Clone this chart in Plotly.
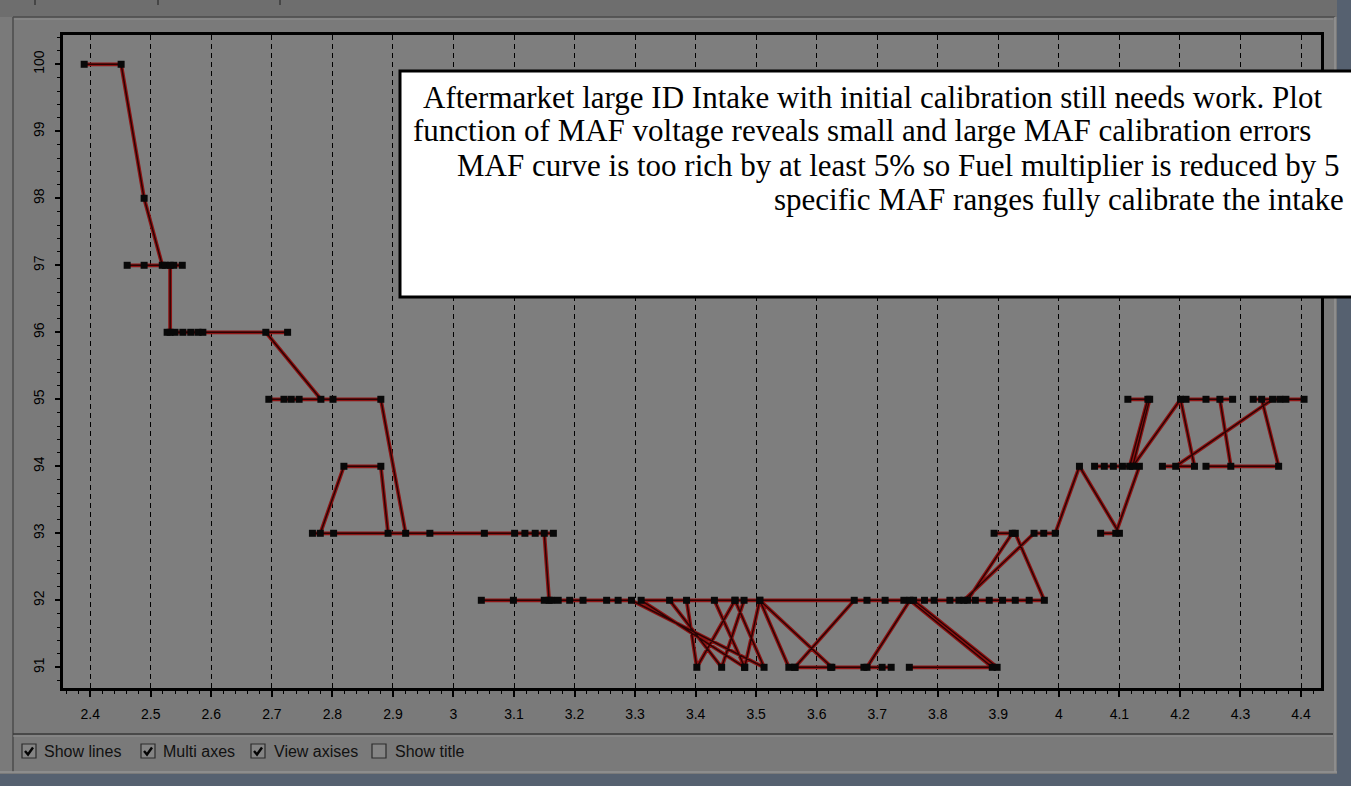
import plotly.graph_objects as go

# ---------------- data (MAF voltage vs fuel multiplier %) ----------------
maf_v = [
    2.390, 2.451, 2.489, 2.519, 2.461, 2.489, 2.524, 2.538, 2.552, 2.532,
    2.532, 2.527, 2.540, 2.553, 2.566, 2.578, 2.586, 2.726, 2.690, 2.781,
    2.695, 2.720, 2.732, 2.745, 2.801, 2.880, 2.921, 2.767, 2.780, 2.819,
    2.880, 2.892, 2.802, 2.961, 3.051, 3.101, 3.118, 3.135, 3.165, 3.150,
    3.158, 3.046, 3.099, 3.150, 3.162, 3.173, 3.192, 3.214, 3.253, 3.272,
    3.294, 3.513, 3.465, 3.310, 3.481, 3.506, 3.625, 3.564, 3.662, 3.683,
    3.713, 3.744, 3.385, 3.402, 3.465, 3.357, 3.443, 3.480, 3.431, 3.481,
    3.506, 3.554, 3.564, 3.623, 3.678, 3.708, 3.723, 3.683, 3.754, 3.890,
    3.753, 3.898, 3.760, 3.778, 3.794, 3.820, 3.835, 3.849, 3.923, 3.893,
    3.928, 3.976, 3.951, 3.928, 3.907, 3.885, 3.862, 3.843, 3.959, 3.975,
    3.994, 4.034, 4.100, 4.069, 4.094, 4.133, 4.059, 4.075, 4.090, 4.105,
    4.117, 4.147, 4.114, 4.150, 4.122, 4.201, 4.224, 4.171, 4.193, 4.353,
    4.365, 4.375, 4.405, 4.321, 4.335, 4.363, 4.243, 4.284, 4.266, 4.243,
    4.210, 4.287,
]
fuel_pct = [
    100, 100, 98, 97, 97, 97, 97, 97, 97, 97,
    96, 96, 96, 96, 96, 96, 96, 96, 96, 95,
    95, 95, 95, 95, 95, 95, 93, 93, 93, 94,
    94, 93, 93, 93, 93, 93, 93, 93, 93, 93,
    92, 92, 92, 92, 92, 92, 92, 92, 92, 92,
    92, 91, 92, 92, 91, 92, 91, 91, 92, 92,
    92, 92, 92, 91, 92, 92, 91, 92, 92, 91,
    92, 91, 91, 91, 91, 91, 91, 91, 92, 91,
    91, 91, 92, 92, 92, 92, 92, 92, 93, 93,
    93, 92, 92, 92, 92, 92, 92, 92, 93, 93,
    93, 94, 93, 93, 93, 94, 94, 94, 94, 94,
    94, 95, 95, 95, 94, 95, 94, 94, 94, 95,
    95, 95, 95, 95, 95, 94, 94, 94, 95, 95,
    95, 95,
]

x_tick_vals = [2.4, 2.5, 2.6, 2.7, 2.8, 2.9, 3.0, 3.1, 3.2, 3.3, 3.4,
               3.5, 3.6, 3.7, 3.8, 3.9, 4.0, 4.1, 4.2, 4.3, 4.4]
x_tick_text = ["2.4", "2.5", "2.6", "2.7", "2.8", "2.9", "3", "3.1", "3.2", "3.3", "3.4",
               "3.5", "3.6", "3.7", "3.8", "3.9", "4", "4.1", "4.2", "4.3", "4.4"]
y_tick_vals = [91, 92, 93, 94, 95, 96, 97, 98, 99, 100]

note_lines = [
    "Aftermarket large ID Intake with initial calibration still needs work. Plot",
    "function of MAF voltage reveals small and large MAF calibration errors",
    "MAF curve is too rich by at least 5% so Fuel multiplier is reduced by 5",
    "specific MAF ranges fully calibrate the intake",
]
checkbox_labels = ["Show lines", "Multi axes", "View axises", "Show title"]
checkbox_states = [True, True, True, False]

# ---------------- layout geometry (pixels) ----------------
W, H = 1351, 786
L, R, T, B = 63, 1321, 35, 688
PW, PH = R - L, B - T


def px(x):
    return (x - L) / PW


def py(y):
    return (B - y) / PH


fig = go.Figure()
fig.add_trace(go.Scatter(x=maf_v, y=fuel_pct, mode="lines",
                         line=dict(color="#8e1212", width=3.8),
                         hoverinfo="skip", showlegend=False))
fig.add_trace(go.Scatter(x=maf_v, y=fuel_pct, mode="lines+markers",
                         line=dict(color="#2a0404", width=1.4),
                         marker=dict(symbol="square", size=7, color="#080808",
                                     line=dict(width=0)),
                         showlegend=False))

shapes = []
# top dark strip
shapes.append(dict(type="rect", xref="paper", yref="paper", x0=px(0), x1=px(W),
                   y0=py(0), y1=py(17), fillcolor="#6e6e6e", line=dict(width=0), layer="below"))
# right and bottom bluish strips
shapes.append(dict(type="rect", xref="paper", yref="paper", x0=px(1337), x1=px(W),
                   y0=py(0), y1=py(H), fillcolor="#566170", line=dict(width=0), layer="below"))
shapes.append(dict(type="rect", xref="paper", yref="paper", x0=px(0), x1=px(W),
                   y0=py(774), y1=py(H), fillcolor="#566170", line=dict(width=0), layer="below"))
# panel borders
for (x0, y0, x1, y1, c, w) in [
    (13, 17, 1335, 17, "#4c4c4c", 1.5),
    (13, 19, 1333, 19, "#8f8f8f", 1),
    (13, 17, 13, 772, "#4c4c4c", 1.5),
    (1335, 17, 1335, 772, "#959595", 1.5),
    (13, 734, 1333, 734, "#3a3a3a", 1.5),
    (13, 736, 1333, 736, "#8f8f8f", 1),
    (0, 772, 1337, 772, "#959595", 1.5),
]:
    shapes.append(dict(type="line", xref="paper", yref="paper", x0=px(x0), x1=px(x1),
                       y0=py(y0), y1=py(y1), line=dict(color=c, width=w), layer="below"))
# toolbar tick marks at the very top
for tx in [35, 158, 280]:
    shapes.append(dict(type="line", xref="paper", yref="paper", x0=px(tx), x1=px(tx),
                       y0=py(0), y1=py(5), line=dict(color="#3a3a3a", width=1.5), layer="below"))
# annotation box
shapes.append(dict(type="rect", xref="paper", yref="paper", x0=px(400), x1=px(1380),
                   y0=py(71), y1=py(297), fillcolor="#ffffff",
                   line=dict(color="#000000", width=3), layer="above"))

annotations = []
line_x = [421, 411, 455, 772]
line_y = [97, 131, 165, 199]
for txt, lx, ly in zip(note_lines, line_x, line_y):
    annotations.append(dict(text=txt, xref="paper", yref="paper", x=px(lx), y=py(ly),
                            xanchor="left", yanchor="middle", showarrow=False,
                            font=dict(family="Liberation Serif, Times New Roman, serif",
                                      size=31, color="#000000")))

# checkboxes
cb_x = [22, 141, 251, 372]
lbl_x = [42, 161, 272, 393]
cb_y = 744
cb_s = 14
for bx, lx, lab, st in zip(cb_x, lbl_x, checkbox_labels, checkbox_states):
    shapes.append(dict(type="rect", xref="paper", yref="paper", x0=px(bx), x1=px(bx + cb_s),
                       y0=py(cb_y), y1=py(cb_y + cb_s), fillcolor="#848484",
                       line=dict(color="#2c2c2c", width=1.2), layer="above"))
    if st:
        path = "M {:.5f},{:.5f} L {:.5f},{:.5f} L {:.5f},{:.5f}".format(
            px(bx + 3), py(cb_y + 7), px(bx + 6), py(cb_y + 10.5), px(bx + 11), py(cb_y + 3.5))
        shapes.append(dict(type="path", xref="paper", yref="paper", path=path,
                           line=dict(color="#050505", width=2.4), layer="above"))
    annotations.append(dict(text=lab, xref="paper", yref="paper", x=px(lx), y=py(cb_y + 7),
                            xanchor="left", yanchor="middle", showarrow=False,
                            font=dict(family="Liberation Sans, Arial, sans-serif",
                                      size=16, color="#111111")))

fig.update_layout(
    width=W, height=H,
    margin=dict(l=L, r=W - R, t=T, b=H - B, pad=0),
    paper_bgcolor="#7a7a7a",
    plot_bgcolor="#7e7e7e",
    showlegend=False,
    shapes=shapes,
    annotations=annotations,
    xaxis=dict(
        range=[2.355, 4.433],
        tickmode="array", tickvals=x_tick_vals, ticktext=x_tick_text,
        ticks="outside", ticklen=6, tickwidth=1.5, tickcolor="#000000",
        ticklabelstandoff=5,
        tickfont=dict(family="Liberation Sans, Arial, sans-serif", size=14, color="#000000"),
        showgrid=True, gridcolor="#000000", gridwidth=1.4, griddash="5px,4px",
        showline=True, linecolor="#000000", linewidth=2.6, mirror=True,
        zeroline=False,
        minor=dict(dtick=0.02, tick0=2.4, ticks="outside", ticklen=3,
                   tickwidth=1.2, tickcolor="#000000", showgrid=False),
    ),
    yaxis=dict(
        range=[90.691, 100.437],
        tickmode="array", tickvals=y_tick_vals,
        tickangle=-90,
        ticks="outside", ticklen=5, tickwidth=1.5, tickcolor="#000000",
        ticklabelstandoff=6,
        tickfont=dict(family="Liberation Sans, Arial, sans-serif", size=14, color="#000000"),
        showgrid=False,
        showline=True, linecolor="#000000", linewidth=2.6, mirror=True,
        zeroline=False,
        minor=dict(dtick=0.2, tick0=91, ticks="outside", ticklen=3,
                   tickwidth=1.2, tickcolor="#000000", showgrid=False),
    ),
)

fig.write_html("out.html",
               config={"displayModeBar": False},
               post_script="document.body.style.margin='0';document.body.style.overflow='hidden';")
